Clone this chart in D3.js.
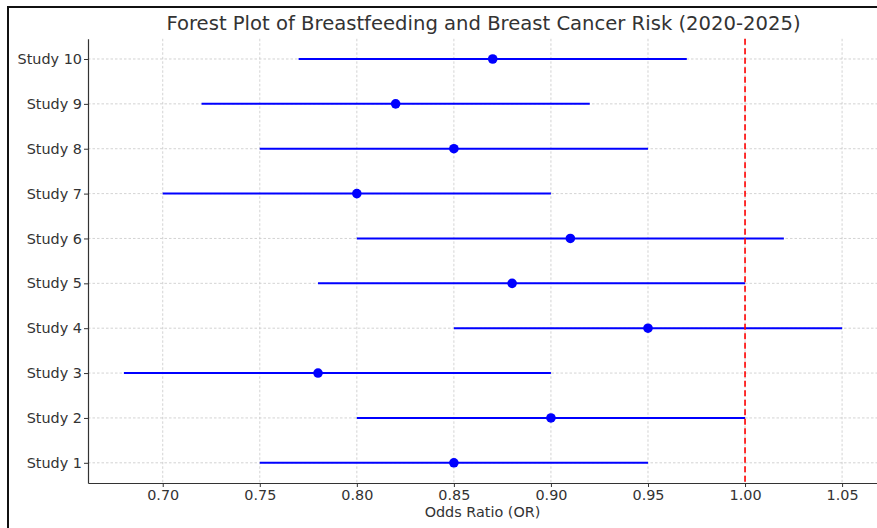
<!DOCTYPE html>
<html>
<head>
<meta charset="utf-8">
<script src="https://cdn.jsdelivr.net/npm/d3@7"></script>
<style>
  body { margin: 0; background: #fff; }
  svg { font-family: "DejaVu Sans", sans-serif; }
</style>
</head>
<body>
<div id="chart"></div>
<script>
const studies = ['Study 1', 'Study 2', 'Study 3', 'Study 4', 'Study 5',
  'Study 6', 'Study 7', 'Study 8', 'Study 9', 'Study 10'];
const oddsRatio = [0.85, 0.90, 0.78, 0.95, 0.88, 0.91, 0.80, 0.85, 0.82, 0.87];
const ciLower = [0.75, 0.80, 0.68, 0.85, 0.78, 0.80, 0.70, 0.75, 0.72, 0.77];
const ciUpper = [0.95, 1.00, 0.90, 1.05, 1.00, 1.02, 0.90, 0.95, 0.92, 0.97];
const xTicks = [0.70, 0.75, 0.80, 0.85, 0.90, 0.95, 1.00, 1.05];

const width = 877, height = 528;
const margin = { top: 38.8, right: -1, bottom: 45, left: 88 };

const svg = d3.select('#chart').append('svg')
  .attr('width', width)
  .attr('height', height);

// frame around the figure (only left and top edges visible)
svg.append('path')
  .attr('d', `M8,${height} L8,7 L${width},7`)
  .attr('fill', 'none')
  .attr('stroke', '#111')
  .attr('stroke-width', 2);

const x = d3.scaleLinear()
  .domain([0.6615, 1.0685])
  .range([margin.left, width - margin.right]);

const y = d3.scaleLinear()
  .domain([0.55, 10.45])
  .range([height - margin.bottom, margin.top]);

const rows = studies.map((s, i) => ({
  study: s, pos: i + 1, or: oddsRatio[i], lo: ciLower[i], hi: ciUpper[i]
}));

// grid
const grid = svg.append('g')
  .attr('stroke', '#c8c8c8')
  .attr('stroke-width', 0.8)
  .attr('stroke-dasharray', '2.5,2');

grid.selectAll('.gx')
  .data(xTicks)
  .enter().append('line')
    .attr('x1', d => x(d)).attr('x2', d => x(d))
    .attr('y1', y.range()[1]).attr('y2', y.range()[0]);

grid.selectAll('.gy')
  .data(rows)
  .enter().append('line')
    .attr('x1', x.range()[0]).attr('x2', x.range()[1])
    .attr('y1', d => y(d.pos)).attr('y2', d => y(d.pos));

// confidence intervals
svg.append('g').selectAll('line')
  .data(rows)
  .enter().append('line')
    .attr('x1', d => x(d.lo))
    .attr('x2', d => x(d.hi))
    .attr('y1', d => y(d.pos))
    .attr('y2', d => y(d.pos))
    .attr('stroke', '#0000ff')
    .attr('stroke-width', 2);

// reference line at OR = 1
svg.append('line')
  .attr('x1', x(1)).attr('x2', x(1))
  .attr('y1', y.range()[1]).attr('y2', y.range()[0])
  .attr('stroke', '#ff0000')
  .attr('stroke-width', 1.6)
  .attr('stroke-dasharray', '6,3.5');

// point estimates
svg.append('g').selectAll('circle')
  .data(rows)
  .enter().append('circle')
    .attr('cx', d => x(d.or))
    .attr('cy', d => y(d.pos))
    .attr('r', 4.8)
    .attr('fill', '#0000ff');

// axes
const xAxis = svg.append('g')
  .attr('transform', `translate(0,${height - margin.bottom})`)
  .call(d3.axisBottom(x).tickValues(xTicks).tickFormat(d3.format('.2f'))
    .tickSizeInner(4).tickSizeOuter(0).tickPadding(3));

const yAxis = svg.append('g')
  .attr('transform', `translate(${margin.left},0)`)
  .call(d3.axisLeft(y).tickValues(rows.map(d => d.pos))
    .tickFormat(d => studies[d - 1])
    .tickSizeInner(4).tickSizeOuter(0).tickPadding(2));

[xAxis, yAxis].forEach(a => {
  a.select('.domain').attr('stroke', '#333').attr('stroke-width', 1.2);
  a.selectAll('.tick line').attr('stroke', '#333');
  a.selectAll('.tick text')
    .attr('fill', '#333')
    .style('font-family', '"DejaVu Sans", sans-serif')
    .style('font-size', '14.4px');
});

// title and label
svg.append('text')
  .attr('x', (margin.left + width) / 2 + 1)
  .attr('y', 30)
  .attr('text-anchor', 'middle')
  .attr('fill', '#333')
  .style('font-size', '19.6px')
  .text('Forest Plot of Breastfeeding and Breast Cancer Risk (2020-2025)');

svg.append('text')
  .attr('x', (margin.left + width) / 2)
  .attr('y', 517)
  .attr('text-anchor', 'middle')
  .attr('fill', '#333')
  .style('font-size', '14.4px')
  .text('Odds Ratio (OR)');
</script>
</body>
</html>
